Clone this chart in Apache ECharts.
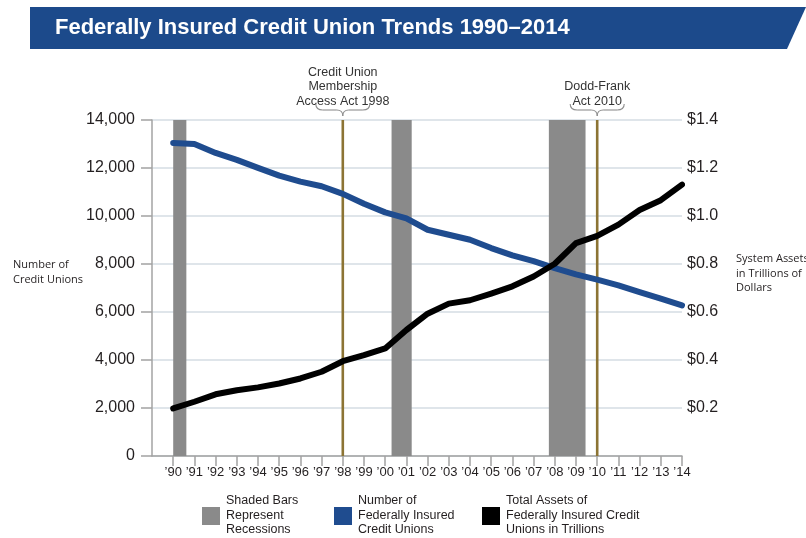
<!DOCTYPE html>
<html>
<head>
<meta charset="utf-8">
<script src="https://cdn.jsdelivr.net/npm/echarts@6/dist/echarts.min.js"></script>
<style>
  html, body { margin: 0; padding: 0; background: #ffffff; }
  #chart { width: 806px; height: 538px; }
</style>
</head>
<body>
<div id="chart"></div>
<script>
// Years on the horizontal axis
const years = [1990, 1991, 1992, 1993, 1994, 1995, 1996, 1997, 1998, 1999, 2000, 2001, 2002,
               2003, 2004, 2005, 2006, 2007, 2008, 2009, 2010, 2011, 2012, 2013, 2014];

// Number of federally insured credit unions (left axis)
const creditUnions = [13044, 13002, 12628, 12337, 12004, 11684, 11435, 11239, 10923, 10507, 10150, 9900, 9427,
                      9219, 9011, 8664, 8358, 8122, 7831, 7569, 7348, 7110, 6832, 6557, 6279];

// Total assets of federally insured credit unions, trillions of dollars (right axis)
const totalAssets = [0.198, 0.226, 0.257, 0.274, 0.286, 0.302, 0.323, 0.351, 0.395, 0.420, 0.448, 0.525, 0.593,
                     0.635, 0.649, 0.677, 0.707, 0.748, 0.801, 0.887, 0.917, 0.964, 1.025, 1.066, 1.131];

// Recession periods, shaded
const recessionStart = [1990.0, 2000.3, 2007.72];
const recessionEnd   = [1990.62, 2001.25, 2009.45];

// Legislative milestones
const actYears  = [1998, 2010];
const actLabels = ['Credit Union\nMembership\nAccess Act 1998', 'Dodd-Frank\nAct 2010'];

// Axis labels
const leftAxisName  = 'Number of\nCredit Unions';
const rightAxisName = 'System Assets\nin Trillions of\nDollars';
const titleText = 'Federally Insured Credit Union Trends 1990\u20132014';

const legendItems = [
  { name: 'Shaded Bars\nRepresent\nRecessions', color: '#8a8a8a' },
  { name: 'Number of\nFederally Insured\nCredit Unions', color: '#1f4c8f' },
  { name: 'Total Assets of\nFederally Insured Credit\nUnions in Trillions', color: '#000000' }
];

const FONT = '"Liberation Sans", Arial, Helvetica, sans-serif';
const SOFT_FONT = '"Open Sans", "Noto Sans", sans-serif';
const AXIS_GRAY = '#a3a3a3';
const BLUE = '#1f4c8f';
const ACT_COLOR = '#8c7434';

const chart = echarts.init(document.getElementById('chart'), null, { renderer: 'canvas' });

const option = {
  animation: false,
  backgroundColor: '#ffffff',
  grid: { left: 152, right: 124, top: 120, bottom: 82 },
  xAxis: {
    type: 'value',
    min: 1989,
    max: 2014,
    interval: 1,
    splitLine: { show: false },
    axisLine: { lineStyle: { color: AXIS_GRAY, width: 1.5 } },
    axisTick: { customValues: years, length: 10, lineStyle: { color: AXIS_GRAY, width: 1.5 } },
    axisLabel: {
      customValues: years,
      formatter: v => '\u2019' + String(v).slice(2),
      fontFamily: FONT, fontSize: 13, color: '#231f20', margin: 10
    }
  },
  yAxis: [
    {
      type: 'value', min: 0, max: 14000, interval: 2000, position: 'left',
      axisLine: { show: true, lineStyle: { color: AXIS_GRAY, width: 1.5 } },
      axisTick: { show: true, length: 11, lineStyle: { color: AXIS_GRAY, width: 1.5 } },
      axisLabel: {
        formatter: v => v.toLocaleString('en-US'),
        fontFamily: FONT, fontSize: 16, color: '#231f20', margin: 17
      },
      splitLine: { show: true, lineStyle: { color: '#d5dce3', width: 1.5 } }
    },
    {
      type: 'value', min: 0, max: 1.4, interval: 0.2, position: 'right',
      axisLine: { show: false },
      axisTick: { show: false },
      splitLine: { show: false },
      axisLabel: {
        formatter: v => (v < 0.01 ? '' : '$' + v.toFixed(1)),
        fontFamily: FONT, fontSize: 16, color: '#231f20', margin: 5
      }
    }
  ],
  series: [
    {
      name: 'Recessions',
      type: 'custom',
      silent: true,
      z: 1,
      xAxisIndex: 0, yAxisIndex: 0,
      encode: { x: [0, 1] },
      data: recessionStart.map((s, i) => [s, recessionEnd[i]]),
      renderItem: (params, api) => {
        const a = api.coord([api.value(0), 14000]);
        const b = api.coord([api.value(1), 0]);
        return {
          type: 'rect',
          shape: { x: a[0], y: a[1], width: b[0] - a[0], height: b[1] - a[1] },
          style: { fill: '#8a8a8a' }
        };
      }
    },
    {
      name: 'Acts',
      type: 'custom',
      silent: true,
      z: 2,
      xAxisIndex: 0, yAxisIndex: 0,
      encode: { x: 0 },
      data: actYears.map(y => [y]),
      renderItem: (params, api) => {
        const a = api.coord([api.value(0), 14000]);
        const b = api.coord([api.value(0), 0]);
        return {
          type: 'line',
          shape: { x1: a[0], y1: a[1], x2: b[0], y2: b[1] },
          style: { stroke: ACT_COLOR, lineWidth: 2.6 }
        };
      }
    },
    {
      name: 'Number of Federally Insured Credit Unions',
      type: 'line',
      xAxisIndex: 0, yAxisIndex: 0,
      z: 3,
      symbol: 'none',
      data: years.map((y, i) => [y, creditUnions[i]]),
      lineStyle: { color: BLUE, width: 6, cap: 'round', join: 'round' }
    },
    {
      name: 'Total Assets of Federally Insured Credit Unions in Trillions',
      type: 'line',
      xAxisIndex: 0, yAxisIndex: 1,
      z: 4,
      symbol: 'none',
      data: years.map((y, i) => [y, totalAssets[i]]),
      lineStyle: { color: '#000000', width: 6, cap: 'round', join: 'round' }
    }
  ]
};

chart.setOption(option);

// Curly brace under an act label, built from quadratic curves and straight segments
function braceElements(cx, top, halfW) {
  const mid = top + 6, tip = top + 12;
  const style = { fill: null, stroke: '#8e8e8e', lineWidth: 1.1 };
  const curve = (x1, y1, cpx, cpy, x2, y2) => ({
    type: 'bezierCurve', silent: true, z: 10,
    shape: { x1: x1, y1: y1, cpx1: cpx, cpy1: cpy, x2: x2, y2: y2 },
    style: style
  });
  const seg = (x1, y1, x2, y2) => ({
    type: 'line', silent: true, z: 10,
    shape: { x1: x1, y1: y1, x2: x2, y2: y2 },
    style: style
  });
  return [
    curve(cx - halfW, top, cx - halfW, mid, cx - halfW + 7, mid),
    seg(cx - halfW + 7, mid, cx - 6, mid),
    curve(cx - 6, mid, cx, mid, cx, tip),
    curve(cx, tip, cx, mid, cx + 6, mid),
    seg(cx + 6, mid, cx + halfW - 7, mid),
    curve(cx + halfW - 7, mid, cx + halfW, mid, cx + halfW, top)
  ];
}

const graphics = [];

// Title banner
graphics.push({
  type: 'polygon', silent: true, z: 10,
  shape: { points: [[30, 7], [806, 7], [787, 49], [30, 49]] },
  style: { fill: '#1c4a8b' }
});
graphics.push({
  type: 'text', silent: true, z: 11,
  x: 55, y: 28,
  style: {
    text: titleText, fill: '#ffffff',
    font: 'bold 22px ' + FONT,
    textAlign: 'left', textVerticalAlign: 'middle'
  }
});

// Act labels with braces
actYears.forEach((yr, i) => {
  const p = chart.convertToPixel({ gridIndex: 0 }, [yr, 14000]);
  graphics.push({
    type: 'text', silent: true, z: 10,
    x: p[0], y: 108.5,
    style: {
      text: actLabels[i], fill: '#333333',
      font: '12.5px ' + FONT, lineHeight: 14.5,
      textAlign: 'center', textVerticalAlign: 'bottom'
    }
  });
  braceElements(p[0], 104, 27).forEach(el => graphics.push(el));
});

// Axis names
graphics.push({
  type: 'text', silent: true, z: 10,
  x: 13, y: 272.5,
  style: {
    text: leftAxisName, fill: '#231f20',
    font: '11px ' + SOFT_FONT, lineHeight: 14.5,
    textAlign: 'left', textVerticalAlign: 'middle'
  }
});
graphics.push({
  type: 'text', silent: true, z: 10,
  x: 736, y: 273.5,
  style: {
    text: rightAxisName, fill: '#231f20',
    font: '11px ' + SOFT_FONT, lineHeight: 14.5,
    textAlign: 'left', textVerticalAlign: 'middle'
  }
});

// Legend
const legendX = [202, 334, 482];
legendItems.forEach((item, i) => {
  graphics.push({
    type: 'rect', silent: true, z: 10,
    shape: { x: legendX[i], y: 507, width: 18, height: 18 },
    style: { fill: item.color }
  });
  graphics.push({
    type: 'text', silent: true, z: 10,
    x: legendX[i] + 24, y: 515.5,
    style: {
      text: item.name, fill: '#231f20',
      font: '12.5px ' + FONT, lineHeight: 14.5,
      textAlign: 'left', textVerticalAlign: 'middle'
    }
  });
});

chart.setOption({ graphic: graphics });
</script>
</body>
</html>
